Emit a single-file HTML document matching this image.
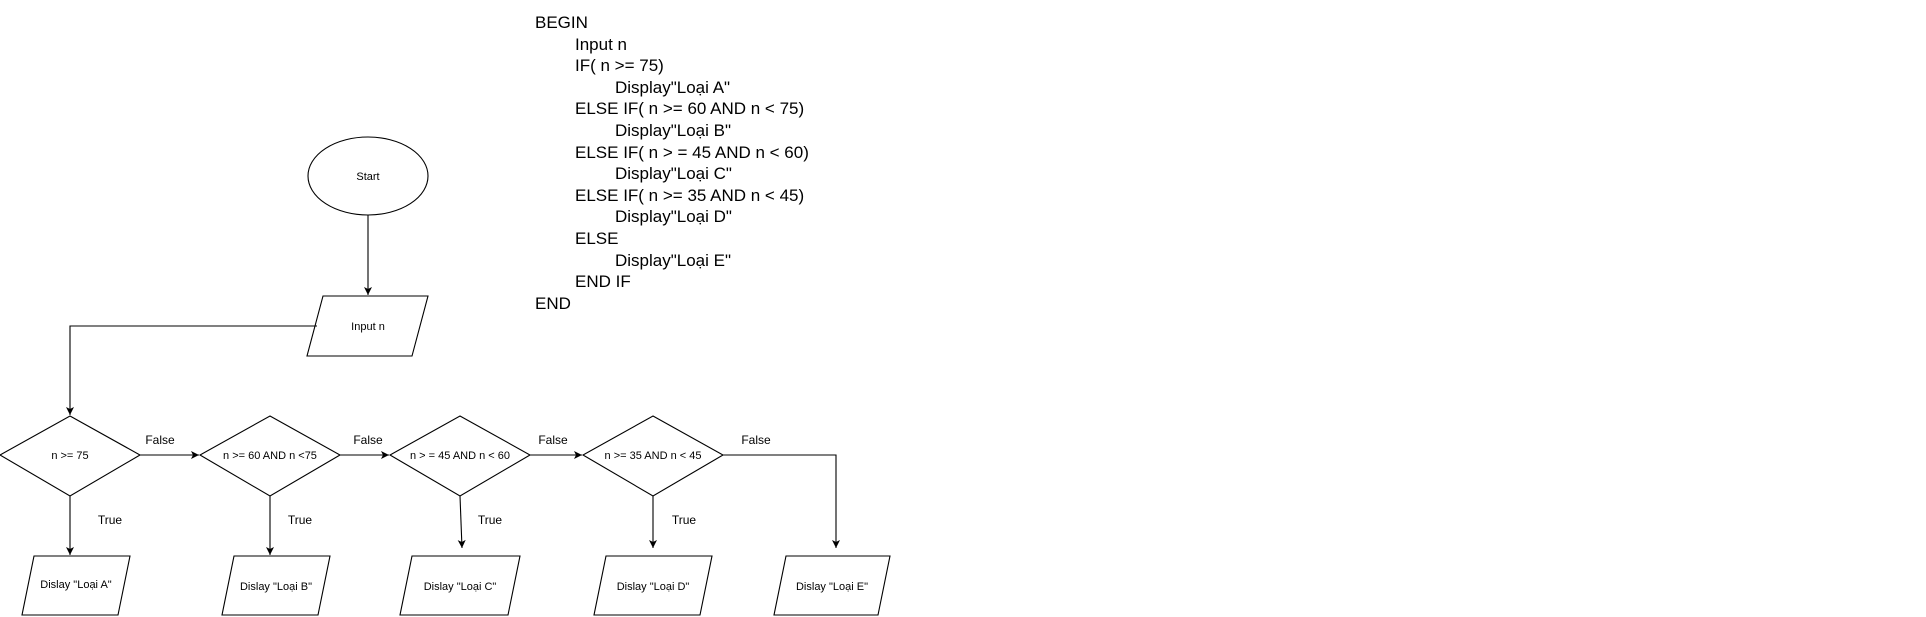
<!DOCTYPE html>
<html><head><meta charset="utf-8"><style>
body{margin:0;width:1926px;height:617px;background:#fff;overflow:hidden;position:relative;font-family:"Liberation Sans",Arial,sans-serif}
.code{position:absolute;left:535px;top:12px;font-size:17px;line-height:21.6px;color:#000;white-space:pre}
svg{position:absolute;left:0;top:0}
</style></head><body>
<div class="code">BEGIN
<span style="padding-left:40px">Input n</span>
<span style="padding-left:40px">IF( n &gt;= 75)</span>
<span style="padding-left:80px">Display"Loại A"</span>
<span style="padding-left:40px">ELSE IF( n &gt;= 60 AND n &lt; 75)</span>
<span style="padding-left:80px">Display"Loại B"</span>
<span style="padding-left:40px">ELSE IF( n &gt; = 45 AND n &lt; 60)</span>
<span style="padding-left:80px">Display"Loại C"</span>
<span style="padding-left:40px">ELSE IF( n &gt;= 35 AND n &lt; 45)</span>
<span style="padding-left:80px">Display"Loại D"</span>
<span style="padding-left:40px">ELSE</span>
<span style="padding-left:80px">Display"Loại E"</span>
<span style="padding-left:40px">END IF</span>
END</div>
<svg width="1926" height="617" viewBox="0 0 1926 617" font-family="Liberation Sans, Arial, sans-serif" font-size="12">
<defs><marker id="a" markerWidth="10" markerHeight="10" refX="9" refY="5" orient="auto" markerUnits="userSpaceOnUse"><path d="M1,1 L9,5 L1,9 L3,5 Z" fill="#000"/></marker></defs>
<g fill="#fff" stroke="#000" stroke-width="1.1">
<ellipse cx="368" cy="176" rx="60" ry="39"/>
<polygon points="323,296 428,296 412,356 307,356"/>
<polygon points="70,416 140,455 70,496 0,455"/>
<polygon points="270,416 340,455 270,496 200,455"/>
<polygon points="460,416 530,455 460,496 390,455"/>
<polygon points="653,416 723,455 653,496 583,455"/>
<polygon points="34,556 130,556 118,615 22,615"/>
<polygon points="234,556 330,556 318,615 222,615"/>
<polygon points="412,556 520,556 508,615 400,615"/>
<polygon points="606,556 712,556 700,615 594,615"/>
<polygon points="786,556 890,556 878,615 774,615"/>
</g>
<g stroke="#000" stroke-width="1.1" fill="none" marker-end="url(#a)">
<line x1="368" y1="215" x2="368" y2="295"/>
<polyline points="317,326 70,326 70,415"/>
<line x1="140" y1="455" x2="199" y2="455"/>
<line x1="340" y1="455" x2="389" y2="455"/>
<line x1="530" y1="455" x2="582" y2="455"/>
<polyline points="723,455 836,455 836,548"/>
<line x1="70" y1="496" x2="70" y2="555"/>
<line x1="270" y1="496" x2="270" y2="555"/>
<line x1="460" y1="496" x2="462" y2="548"/>
<line x1="653" y1="496" x2="653" y2="548"/>
</g>
<g fill="#000" text-anchor="middle">
<text x="368" y="180" font-size="11">Start</text>
<text x="368" y="330" font-size="11">Input n</text>
<text x="70" y="459" font-size="11">n  &gt;= 75</text>
<text x="270" y="459" font-size="11">n &gt;= 60 AND n &lt;75</text>
<text x="460" y="459" font-size="11">n &gt; = 45 AND n &lt; 60</text>
<text x="653" y="459" font-size="11">n &gt;= 35 AND n &lt; 45</text>
<text x="76" y="588" font-size="11">Dislay "Loại A"</text>
<text x="276" y="590" font-size="11">Dislay "Loại B"</text>
<text x="460" y="590" font-size="11">Dislay "Loại C"</text>
<text x="653" y="590" font-size="11">Dislay "Loại D"</text>
<text x="832" y="590" font-size="11">Dislay "Loại E"</text>
<text x="160" y="444">False</text>
<text x="368" y="444">False</text>
<text x="553" y="444">False</text>
<text x="756" y="444">False</text>
<text x="110" y="524">True</text>
<text x="300" y="524">True</text>
<text x="490" y="524">True</text>
<text x="684" y="524">True</text>
</g>
</svg>
</body></html>
